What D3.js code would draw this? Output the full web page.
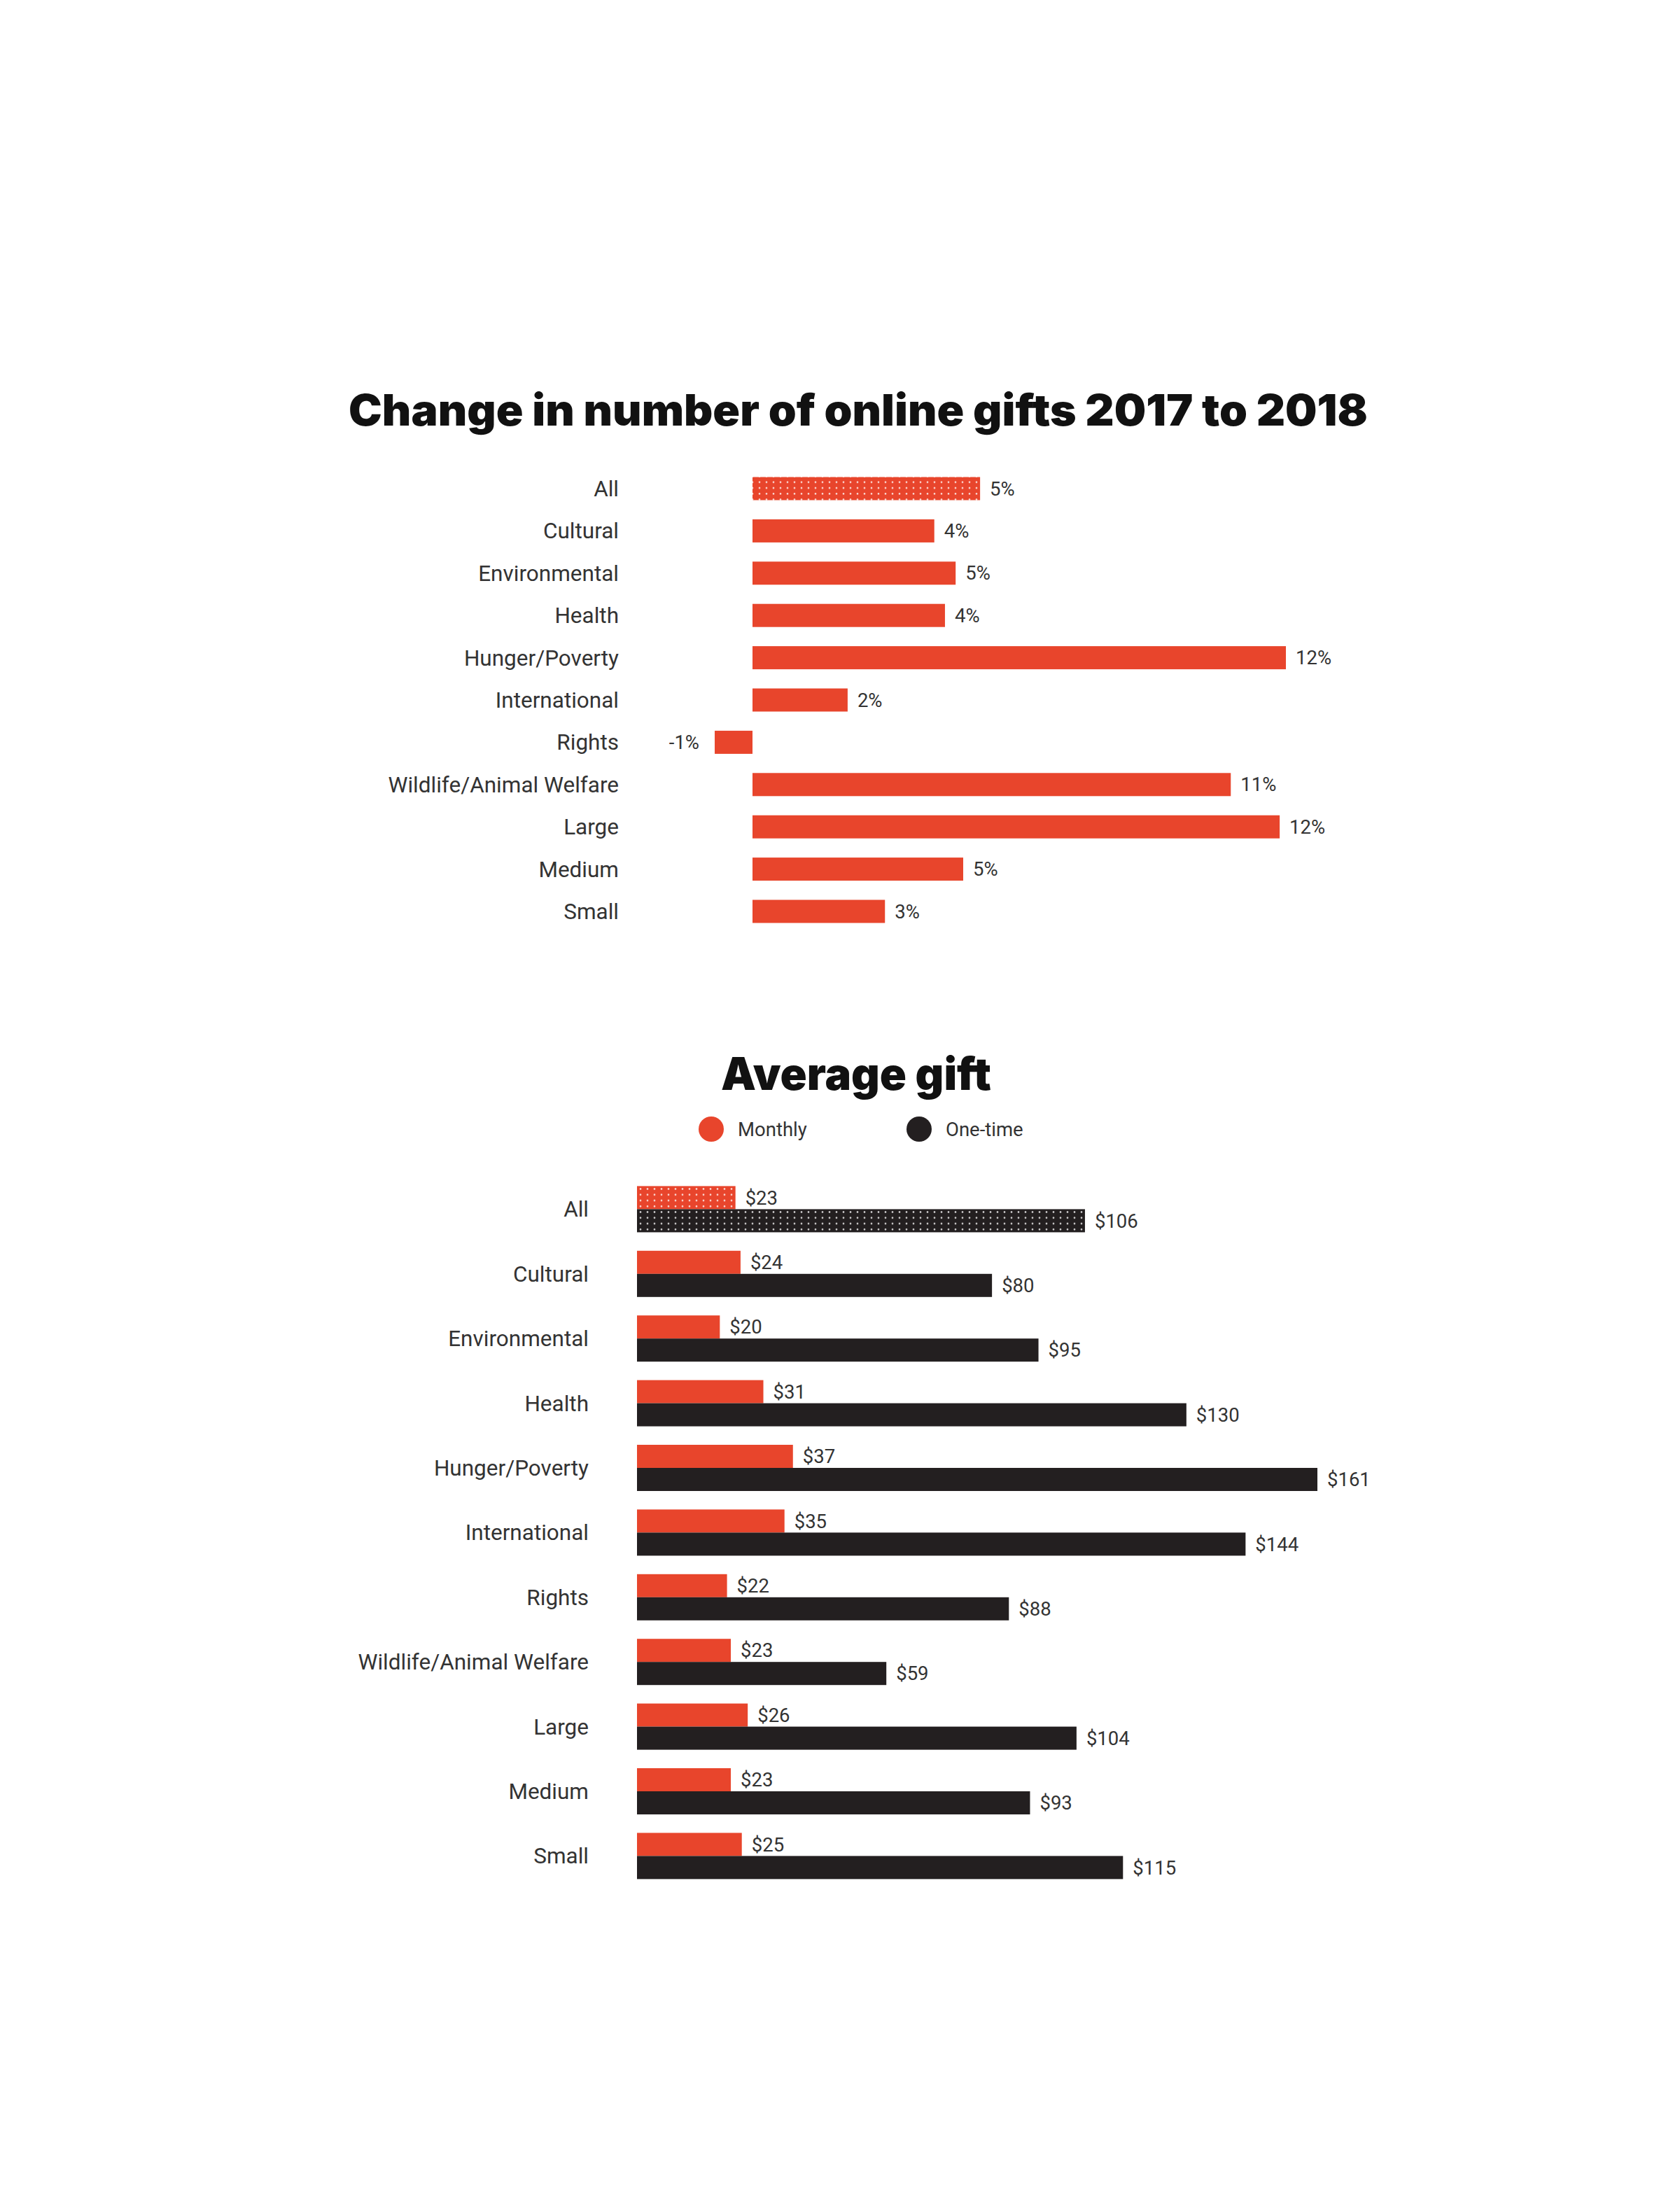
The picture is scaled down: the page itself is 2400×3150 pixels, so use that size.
<!DOCTYPE html>
<html>
<head>
<meta charset="utf-8">
<script src="https://cdn.jsdelivr.net/npm/d3@7"></script>
<style>
  html, body { margin: 0; padding: 0; background: #ffffff; }
  svg { display: block; }
</style>
</head>
<body>
<script>
// ---------- DATA ----------
const categories = ["All", "Cultural", "Environmental", "Health", "Hunger/Poverty", "International",
  "Rights", "Wildlife/Animal Welfare", "Large", "Medium", "Small"];

// Chart 1: change in number of online gifts (bar lengths, %)
const changeValues = [5.12, 4.09, 4.57, 4.33, 12.0, 2.14, -0.85, 10.76, 11.86, 4.74, 2.98];
const changeLabels = ["5%", "4%", "5%", "4%", "12%", "2%", "-1%", "11%", "12%", "5%", "3%"];

// Chart 2: average gift ($)
const seriesNames = ["Monthly", "One-time"];
const monthlyValues = [23.3, 24.5, 19.6, 29.9, 36.9, 34.9, 21.3, 22.2, 26.2, 22.2, 24.8];
const monthlyLabels = ["$23", "$24", "$20", "$31", "$37", "$35", "$22", "$23", "$26", "$23", "$25"];
const onetimeValues = [106, 84, 95, 130, 161, 144, 88, 59, 104, 93, 115];
const onetimeLabels = ["$106", "$80", "$95", "$130", "$161", "$144", "$88", "$59", "$104", "$93", "$115"];

const title1 = "Change in number of online gifts 2017 to 2018";
const title2 = "Average gift";

// ---------- STYLE ----------
const RED = "#e8452c";
const BLACK = "#231f20";
const TEXT = "#333333";
const LABEL_FONT = "Roboto, 'Liberation Sans', sans-serif";
const TITLE_FONT = "Inter, Lato, 'Open Sans', sans-serif";

const W = 2400, H = 3150;
const svg = d3.select("body").append("svg").attr("width", W).attr("height", H);
svg.append("rect").attr("width", W).attr("height", H).attr("fill", "#ffffff");

// dot patterns for "All"
const defs = svg.append("defs");
function dotPattern(id, color) {
  const p = defs.append("pattern").attr("id", id).attr("patternUnits", "userSpaceOnUse")
    .attr("width", 10).attr("height", 8.25);
  p.append("rect").attr("width", 10).attr("height", 8.25).attr("fill", color);
  p.append("circle").attr("cx", 5).attr("cy", 4.1).attr("r", 1.3).attr("fill", "#ffffff").attr("opacity", 0.8);
}
dotPattern("dotsRed", RED);
dotPattern("dotsBlack", BLACK);

// ---------- CHART 1 ----------
svg.append("text").attr("x", 1226).attr("y", 608).attr("text-anchor", "middle")
  .attr("font-family", TITLE_FONT).attr("font-weight", 900).attr("font-size", 62)
  .attr("textLength", 1456).attr("lengthAdjust", "spacingAndGlyphs")
  .attr("fill", "#111").text(title1);

const x1 = d3.scaleLinear().domain([0, 12]).range([1075, 1837]);
const y1 = d3.scaleBand().domain(categories).range([667.8, 1332.2])
  .paddingInner(0.4536).paddingOuter(0.2268);

const g1 = svg.append("g");
g1.selectAll("rect.bar").data(categories).join("rect").attr("class", "bar")
  .attr("x", (d, i) => x1(Math.min(0, changeValues[i])))
  .attr("width", (d, i) => Math.abs(x1(changeValues[i]) - x1(0)))
  .attr("y", d => y1(d)).attr("height", y1.bandwidth())
  .attr("fill", (d, i) => i === 0 ? "url(#dotsRed)" : RED);

g1.selectAll("text.cat").data(categories).join("text").attr("class", "cat")
  .attr("x", 884).attr("y", d => y1(d) + y1.bandwidth() / 2)
  .attr("dy", "0.35em").attr("text-anchor", "end")
  .attr("font-family", LABEL_FONT).attr("font-size", 31.5).attr("fill", TEXT).text(d => d);

g1.selectAll("text.val").data(categories).join("text").attr("class", "val")
  .attr("x", (d, i) => changeValues[i] >= 0 ? x1(changeValues[i]) + 14 : x1(changeValues[i]) - 22)
  .attr("text-anchor", (d, i) => changeValues[i] >= 0 ? "start" : "end")
  .attr("y", d => y1(d) + y1.bandwidth() / 2).attr("dy", "0.35em")
  .attr("font-family", LABEL_FONT).attr("font-size", 27.5).attr("fill", TEXT)
  .text((d, i) => changeLabels[i]);

// ---------- CHART 2 ----------
svg.append("text").attr("x", 1223).attr("y", 1557).attr("text-anchor", "middle")
  .attr("font-family", TITLE_FONT).attr("font-weight", 900).attr("font-size", 64)
  .attr("textLength", 386).attr("lengthAdjust", "spacingAndGlyphs")
  .attr("fill", "#111").text(title2);

// legend
const legendX = [1016, 1313];
const legendColors = [RED, BLACK];
const lg = svg.append("g");
lg.selectAll("circle").data(seriesNames).join("circle")
  .attr("cx", (d, i) => legendX[i]).attr("cy", 1613).attr("r", 18)
  .attr("fill", (d, i) => legendColors[i]);
lg.selectAll("text").data(seriesNames).join("text")
  .attr("x", (d, i) => legendX[i] + 38).attr("y", 1613).attr("dy", "0.35em")
  .attr("font-family", LABEL_FONT).attr("font-size", 27.5).attr("fill", TEXT).text(d => d);

const x2 = d3.scaleLinear().domain([0, 161]).range([910, 1882]);
const y2 = d3.scaleBand().domain(categories).range([1681.2, 2697.6])
  .paddingInner(0.2857).paddingOuter(0.1429);
const ySub = d3.scaleBand().domain(seriesNames).range([0, y2.bandwidth()]).padding(0);

const rows = categories.map((c, i) => ({
  cat: c, idx: i,
  series: [
    { key: "Monthly", value: monthlyValues[i], label: monthlyLabels[i], fill: i === 0 ? "url(#dotsRed)" : RED },
    { key: "One-time", value: onetimeValues[i], label: onetimeLabels[i], fill: i === 0 ? "url(#dotsBlack)" : BLACK }
  ]
}));

const g2 = svg.append("g");
const grp = g2.selectAll("g.grp").data(rows).join("g").attr("class", "grp")
  .attr("transform", d => `translate(0,${y2(d.cat)})`);

grp.selectAll("rect").data(d => d.series).join("rect")
  .attr("x", x2(0)).attr("y", s => ySub(s.key))
  .attr("width", s => x2(s.value) - x2(0)).attr("height", ySub.bandwidth())
  .attr("fill", s => s.fill);

grp.selectAll("text.val").data(d => d.series).join("text").attr("class", "val")
  .attr("x", s => x2(s.value) + 14).attr("y", s => ySub(s.key) + ySub.bandwidth() / 2)
  .attr("dy", "0.35em").attr("font-family", LABEL_FONT).attr("font-size", 27.5)
  .attr("fill", TEXT).text(s => s.label);

grp.append("text").attr("class", "cat")
  .attr("x", 841).attr("y", y2.bandwidth() / 2).attr("dy", "0.35em")
  .attr("text-anchor", "end").attr("font-family", LABEL_FONT).attr("font-size", 31.5)
  .attr("fill", TEXT).text(d => d.cat);
</script>
</body>
</html>
